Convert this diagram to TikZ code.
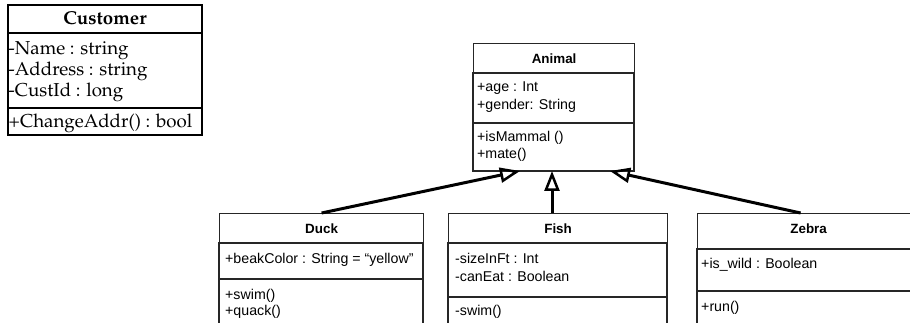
\documentclass[tikz,border=0pt]{standalone}
\usepackage{fontspec}
\usepackage[T1,TU]{fontenc}
\setmainfont{Liberation Sans}
\usetikzlibrary{arrows.meta}

% Palatino serif for the customer class
\newcommand{\palatino}{\fontencoding{T1}\fontfamily{ppl}\selectfont}

\tikzset{
    frame/.style={draw=black!85, line width=1.2pt},
    classname/.style={frame, inner sep=0pt, font=\fontsize{13.4}{16}\selectfont\bfseries},
    member/.style={anchor=base west, inner sep=0pt, font=\fontsize{14.2}{18}\selectfont},
    oldmember/.style={anchor=base west, inner sep=0pt, font=\palatino\fontsize{18.7}{22}\selectfont},
    inherit/.style={line width=3pt, -{Triangle[open, length=20pt, width=15pt, line width=2.5pt]}}
}

\begin{document}
\begin{tikzpicture}[x=1pt, y=-1pt]
    \useasboundingbox (0, 0) rectangle (910, 323);
    \clip (0, 0) rectangle (910, 323);

    % customer
    \draw[frame, draw=black, line width=1.4pt] (8, 5) rectangle (202, 135);
    \draw[black, line width=1.4pt] (8, 33) -- (202, 33);
    \draw[black, line width=1.4pt] (8, 108) -- (202, 108);
    \node[oldmember, anchor=base, font=\palatino\bfseries\fontsize{18.7}{22}\selectfont] (customer) at (105, 25) {Customer};
    \node[oldmember] (custName) at (8.5, 55) {-Name : string};
    \node[oldmember] (custAddr) at (8.5, 76) {-Address : string};
    \node[oldmember] (custId) at (8.5, 97) {-CustId : long};
    \node[oldmember] (custOp) at (8.5, 128) {+ChangeAddr() : bool};

    % animal
    \node[classname, minimum width=161, minimum height=30, anchor=north west] (animal) at (473, 43) {Animal};
    \draw[frame] (473, 73) rectangle (634, 123);
    \draw[frame] (473, 123) rectangle (634, 171);
    \node[member] (animalAge) at (477, 92) {+age : Int};
    \node[member] (animalGender) at (477, 110) {+gender: String};
    \node[member] (animalMammal) at (477, 142) {+isMammal ()};
    \node[member] (animalMate) at (477, 159) {+mate()};

    % duck
    \node[classname, minimum width=204, minimum height=30, anchor=north west] (duck) at (219, 213) {Duck};
    \draw[frame] (219, 243) rectangle (423, 279);
    \draw[frame] (219, 279) rectangle (423, 340);
    \node[member] (duckBeak) at (225, 263) {+beakColor : String = “yellow”};
    \node[member] (duckSwim) at (225, 299) {+swim()};
    \node[member] (duckQuack) at (225, 315) {+quack()};

    % fish
    \node[classname, minimum width=219, minimum height=30, anchor=north west] (fish) at (448, 213) {Fish};
    \draw[frame] (448, 243) rectangle (667, 297);
    \draw[frame] (448, 297) rectangle (667, 340);
    \node[member] (fishSize) at (455, 263) {-sizeInFt : Int};
    \node[member] (fishEat) at (455, 281) {-canEat : Boolean};
    \node[member] (fishSwim) at (455, 315) {-swim()};

    % zebra (taller title row, name kept on the same line as the others)
    \node[classname, minimum width=222, minimum height=36, text depth=6pt, anchor=north west] (zebra) at (697, 213) {Zebra};
    \draw[frame] (697, 249) rectangle (919, 291);
    \draw[frame] (697, 291) rectangle (919, 340);
    \node[member] (zebraWild) at (701, 268) {+is\_wild : Boolean};
    \node[member] (zebraRun) at (701, 311) {+run()};

    % generalisation arrows
    \coordinate (duckTip) at (520, 171);
    \coordinate (fishTip) at (552, 171);
    \coordinate (zebraTip) at (610, 171);
    \draw[inherit] (duck.north) -- (duckTip);
    \draw[inherit] (fishTip |- fish.north) -- (fishTip);
    \draw[inherit] ([xshift=-8pt]zebra.north) -- (zebraTip);
\end{tikzpicture}
\end{document}
